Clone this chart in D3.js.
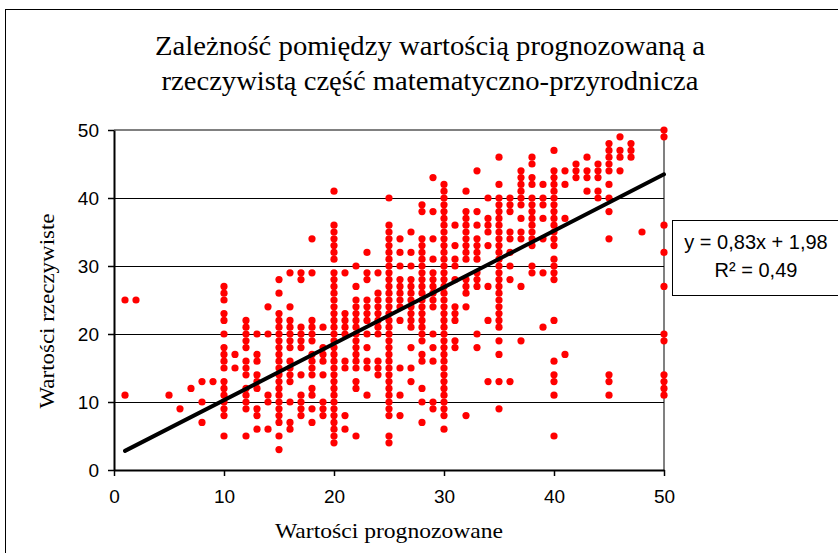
<!DOCTYPE html>
<html>
<head>
<meta charset="utf-8">
<script src="https://cdn.jsdelivr.net/npm/d3@7"></script>
<style>
  body { margin: 0; background: #fff; }
  svg { display: block; }
</style>
</head>
<body>
<svg id="chart" width="838" height="553"></svg>
<script>
// predicted score (x) and the actual scores seen for it (y), read column by column
const predicted = [1, 2, 5, 6, 7, 8, 9, 10, 11, 12, 13, 14, 15, 16, 17, 18, 19, 20,
  21, 22, 23, 24, 25, 26, 27, 28, 29, 30, 31, 32, 33, 34, 35, 36, 37, 38, 39, 40,
  41, 42, 43, 44, 45, 46, 47, 48, 50];

const actual = [
  [25, 11],
  [25],
  [11],
  [9],
  [12],
  [13, 10, 7],
  [13],
  [27, 26, 25, 23, 22, 20, 18, 17, 16, 15, 13, 12, 11, 10, 9, 8, 5],
  [17, 15],
  [22, 21, 20, 19, 18, 16, 15, 14, 12, 11, 10, 9, 5],
  [20, 17, 16, 14, 13, 12, 9, 8, 6],
  [24, 20, 11, 10, 6],
  [28, 26, 23, 22, 21, 20, 19, 18, 17, 16, 15, 14, 13, 12, 11, 10, 9, 8, 7, 5, 3],
  [29, 24, 22, 21, 20, 19, 18, 16, 15, 14, 13, 10, 7, 6],
  [29, 28, 21, 20, 19, 18, 14, 11, 10, 9, 8],
  [34, 29, 22, 21, 20, 19, 17, 16, 15, 14, 12, 11, 9, 7],
  [21, 18, 17, 16, 14, 10, 9, 8],
  [41, 36, 35, 34, 33, 32, 31, 29, 28, 27, 26, 25, 24, 23, 22, 21, 20, 19, 18, 17,
    16, 15, 14, 13, 12, 11, 10, 9, 8, 7, 6, 5, 4],
  [29, 23, 22, 21, 20, 16, 15, 8, 6],
  [30, 27, 25, 24, 23, 22, 21, 20, 19, 18, 17, 16, 15, 13, 12, 5],
  [32, 29, 28, 25, 24, 23, 22, 20, 18, 16, 15, 11],
  [29, 26, 25, 24, 23, 22, 21, 20, 16, 15, 14],
  [40, 36, 35, 34, 33, 32, 31, 30, 29, 28, 27, 26, 25, 24, 23, 22, 21, 20, 19, 18,
    17, 16, 15, 14, 13, 12, 11, 10, 9, 8, 5, 4],
  [34, 32, 30, 28, 27, 26, 25, 24, 22, 15, 11, 8],
  [35, 32, 30, 28, 27, 26, 25, 24, 23, 22, 21, 18, 15, 13],
  [39, 38, 34, 33, 32, 31, 30, 29, 28, 27, 26, 25, 24, 23, 22, 21, 20, 19, 17, 16,
    12, 10, 7],
  [43, 38, 34, 31, 29, 28, 27, 26, 25, 24, 20, 18, 16, 10, 9],
  [42, 41, 40, 39, 38, 37, 36, 35, 34, 33, 32, 31, 30, 29, 28, 27, 26, 25, 24, 23,
    22, 21, 20, 19, 18, 17, 16, 15, 14, 13, 12, 11, 10, 9, 8, 6],
  [36, 33, 31, 30, 28, 24, 23, 22, 19, 18],
  [41, 38, 37, 36, 35, 34, 33, 32, 31, 28, 27, 26, 24, 8],
  [44, 38, 36, 34, 33, 32, 31, 29, 28, 27, 20, 18],
  [40, 37, 36, 35, 33, 27, 22, 13],
  [46, 42, 40, 39, 38, 37, 36, 35, 34, 33, 32, 31, 30, 29, 28, 27, 26, 25, 24, 23,
    22, 21, 19, 17, 13, 9],
  [40, 39, 38, 35, 34, 32, 30, 28, 13],
  [44, 43, 42, 41, 40, 39, 37, 35, 34, 27, 19],
  [46, 45, 43, 42, 40, 39, 38, 37, 36, 35, 34, 33, 30, 29],
  [42, 40, 39, 37, 34, 29, 21],
  [47, 44, 43, 42, 41, 40, 39, 38, 37, 36, 35, 34, 33, 31, 30, 29, 28, 22, 16, 14,
    13, 11, 5],
  [44, 42, 37, 17],
  [45, 44, 43],
  [46, 44, 43, 41],
  [45, 44, 43, 41, 40],
  [48, 47, 46, 45, 44, 42, 40, 38, 34, 14, 13, 11],
  [49, 47, 46, 44],
  [48, 47, 46],
  [35],
  [50, 49, 36, 32, 27, 20, 19, 14, 13, 12, 11]
];

// linear trend as printed on the chart
const trendSlope = 0.83;
const trendIntercept = 1.98;
const trendLabels = ['y = 0,83x + 1,98', 'R² = 0,49'];

const axisTicks = [0, 10, 20, 30, 40, 50];
const titleLines = ['Zależność pomiędzy wartością prognozowaną a',
  'rzeczywistą część matematyczno-przyrodnicza'];

const svg = d3.select('#chart');
const serif = '"Liberation Serif", "Times New Roman", serif';
const sans = '"Liberation Sans", Arial, sans-serif';

const x = d3.scaleLinear().domain([0, 50]).range([114, 664]);
const y = d3.scaleLinear().domain([0, 50]).range([470, 130]);

// outer chart frame (runs off the right and bottom edge)
svg.append('rect')
   .attr('x', 5.5).attr('y', 9.5)
   .attr('width', 900).attr('height', 600)
   .attr('fill', 'none')
   .attr('stroke', '#000');

// title
svg.selectAll('text.title')
   .data(titleLines)
   .enter()
   .append('text')
   .attr('class', 'title')
   .attr('x', 430)
   .attr('y', (d, i) => 55 + i * 35)
   .attr('text-anchor', 'middle')
   .attr('textLength', (d, i) => i === 0 ? 550 : 537)
   .attr('lengthAdjust', 'spacingAndGlyphs')
   .style('font-family', serif)
   .style('font-size', '27px')
   .text((d) => d);

// plot area border: grey top / right
svg.append('path')
   .attr('d', `M${x(0)},${y(50)}H${x(50)}V${y(0)}`)
   .attr('fill', 'none')
   .attr('stroke', '#808080')
   .attr('stroke-width', 2);

// gridlines
svg.selectAll('line.grid')
   .data(axisTicks.slice(1, -1))
   .enter()
   .append('line')
   .attr('class', 'grid')
   .attr('x1', x(0)).attr('x2', x(50))
   .attr('y1', (d) => y(d) + 0.5).attr('y2', (d) => y(d) + 0.5)
   .attr('stroke', '#000')
   .attr('stroke-width', 1);

// axes
const xAxis = svg.append('g')
   .attr('transform', `translate(0,${y(0)})`)
   .call(d3.axisBottom(x).tickValues(axisTicks).tickSize(6).tickSizeOuter(0).tickPadding(14));
const yAxis = svg.append('g')
   .attr('transform', `translate(${x(0)},0)`)
   .call(d3.axisLeft(y).tickValues(axisTicks).tickSize(6).tickSizeOuter(0).tickPadding(9));

[xAxis, yAxis].forEach((g) => {
  g.select('.domain').attr('stroke', '#000').attr('stroke-width', 2);
  g.selectAll('.tick line').attr('stroke', '#000').attr('stroke-width', 1.5);
  g.selectAll('.tick text')
   .style('font-family', sans)
   .style('font-size', '19px')
   .attr('fill', '#000');
});

// axis titles
svg.append('text')
   .attr('x', 389).attr('y', 538)
   .attr('text-anchor', 'middle')
   .attr('textLength', 228)
   .attr('lengthAdjust', 'spacingAndGlyphs')
   .style('font-family', serif)
   .style('font-size', '22px')
   .text('Wartości prognozowane');

svg.append('text')
   .attr('transform', 'translate(54,311) rotate(-90)')
   .attr('text-anchor', 'middle')
   .attr('textLength', 195)
   .attr('lengthAdjust', 'spacingAndGlyphs')
   .style('font-family', serif)
   .style('font-size', '22px')
   .text('Wartości rzeczywiste');

// points
const points = [];
predicted.forEach((p, i) => {
  actual[i].forEach((a) => points.push({ predicted: p, actual: a }));
});

svg.append('g')
   .selectAll('circle')
   .data(points)
   .enter()
   .append('circle')
   .attr('cx', (d) => x(d.predicted))
   .attr('cy', (d) => y(d.actual))
   .attr('r', 3.6)
   .attr('fill', '#ff0000');

// trend line from first to last predicted value
const xMin = d3.min(predicted);
const xMax = d3.max(predicted);
svg.append('line')
   .attr('x1', x(xMin)).attr('y1', y(trendSlope * xMin + trendIntercept))
   .attr('x2', x(xMax)).attr('y2', y(trendSlope * xMax + trendIntercept))
   .attr('stroke', '#000')
   .attr('stroke-width', 4)
   .attr('stroke-linecap', 'round');

// equation box
svg.append('rect')
   .attr('x', 672.5).attr('y', 220.5)
   .attr('width', 200).attr('height', 75)
   .attr('fill', '#fff')
   .attr('stroke', '#000');

svg.selectAll('text.eq')
   .data(trendLabels)
   .enter()
   .append('text')
   .attr('class', 'eq')
   .attr('x', 756)
   .attr('y', (d, i) => 249 + i * 28)
   .attr('text-anchor', 'middle')
   .style('font-family', sans)
   .style('font-size', '20px')
   .text((d) => d);
</script>
</body>
</html>
